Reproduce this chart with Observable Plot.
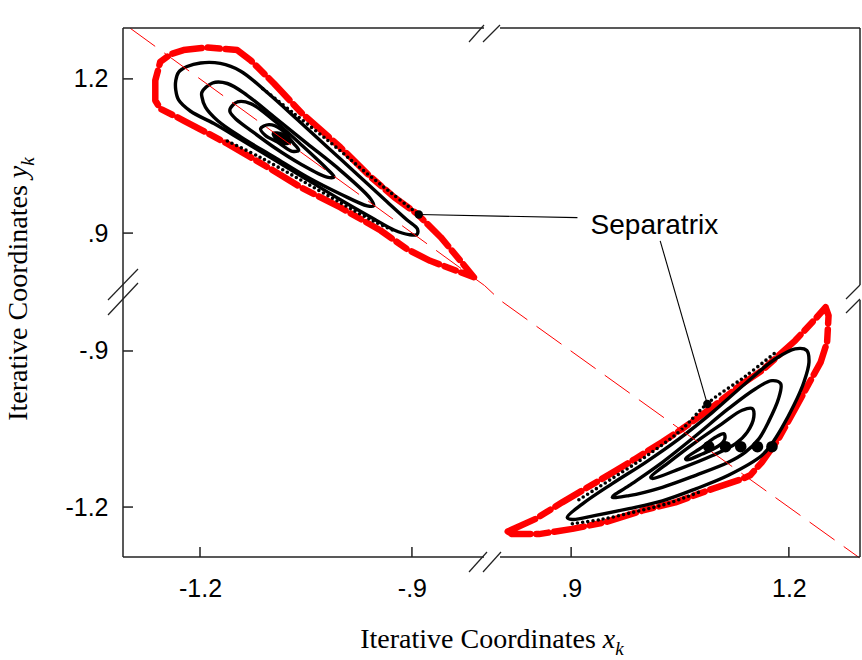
<!DOCTYPE html>
<html><head><meta charset="utf-8">
<script src="https://cdn.jsdelivr.net/npm/d3@7"></script>
<script src="https://cdn.jsdelivr.net/npm/@observablehq/plot@0.6"></script>
<style>body{margin:0;background:#fff}</style>
</head><body><div id="chart"></div>
<script>
// Broken axes: piecewise domains (left/right and lower/upper segments)
const xDomain = [-1.309, -0.798, 0.802, 1.298];
const yDomain = [-1.296, -0.802, 0.799, 1.299];
const xTicks = [-1.2, -0.9, 0.9, 1.2];
const xTickLabels = ["-1.2", "-.9", ".9", "1.2"];
const yTicks = [-1.2, -0.9, 0.9, 1.2];
const yTickLabels = ["-1.2", "-.9", ".9", "1.2"];

// Upper-left island (x<0, y>0)
const ulRed = [[-1.264,1.159],[-1.264,1.198],[-1.257,1.234],[-1.242,1.249],[-1.224,1.257],[-1.191,1.262],[-1.148,1.257],[-1.129,1.237],[-1.096,1.192],[-1.058,1.136],[-1.002,1.068],[-0.959,1.010],[-0.926,0.971],[-0.893,0.938],[-0.860,0.893],[-0.832,0.847],[-0.813,0.815],[-0.875,0.847],[-0.908,0.870],[-0.945,0.906],[-1.002,0.951],[-1.058,0.990],[-1.101,1.026],[-1.162,1.075],[-1.224,1.120],[-1.257,1.143]];
const ulA = [[-1.235,1.198],[-1.231,1.214],[-1.219,1.225],[-1.200,1.232],[-1.172,1.231],[-1.143,1.216],[-1.106,1.175],[-1.063,1.122],[-1.021,1.069],[-0.978,1.015],[-0.936,0.962],[-0.908,0.927],[-0.893,0.909],[-0.894,0.898],[-0.905,0.898],[-0.926,0.907],[-0.955,0.929],[-1.002,0.966],[-1.049,1.005],[-1.096,1.044],[-1.143,1.083],[-1.181,1.114],[-1.214,1.138],[-1.231,1.160],[-1.235,1.179]];
const ulB = [[-1.198,1.175],[-1.183,1.193],[-1.162,1.192],[-1.134,1.169],[-1.096,1.127],[-1.049,1.075],[-1.002,1.023],[-0.959,0.967],[-0.955,0.954],[-0.964,0.954],[-1.002,0.977],[-1.049,1.010],[-1.096,1.049],[-1.143,1.088],[-1.176,1.120],[-1.193,1.146],[-1.198,1.166]];
const ulC = [[-1.158,1.143],[-1.148,1.156],[-1.129,1.153],[-1.096,1.120],[-1.059,1.075],[-1.021,1.026],[-1.011,1.010],[-1.021,1.010],[-1.059,1.036],[-1.096,1.068],[-1.129,1.101],[-1.150,1.123],[-1.158,1.136]];
const ulD = [[-1.115,1.104],[-1.103,1.112],[-1.087,1.104],[-1.068,1.075],[-1.061,1.062],[-1.070,1.060],[-1.091,1.078],[-1.108,1.091]];
const ulE = [[-1.097,1.095],[-1.084,1.093],[-1.073,1.079],[-1.080,1.075],[-1.092,1.083]];
const ulSepUpper = [[-1.112,1.182],[-1.068,1.134],[-1.016,1.077],[-0.974,1.028],[-0.931,0.980],[-0.891,0.937]];
const ulSepLower = [[-1.162,1.080],[-1.115,1.048],[-1.059,1.005],[-1.002,0.960],[-0.955,0.924],[-0.925,0.905]];
const ulSepPoint = [[-0.891,0.937]];

// Lower-right island (x>0, y<0)
const lrRed = [[0.812,-1.246],[0.850,-1.222],[0.887,-1.190],[0.915,-1.167],[0.961,-1.129],[0.988,-1.106],[1.025,-1.074],[1.052,-1.049],[1.094,-1.007],[1.135,-0.962],[1.162,-0.937],[1.208,-0.879],[1.236,-0.837],[1.250,-0.815],[1.254,-0.831],[1.252,-0.882],[1.243,-0.921],[1.229,-0.956],[1.208,-1.010],[1.185,-1.068],[1.162,-1.113],[1.146,-1.138],[1.135,-1.145],[1.094,-1.164],[1.043,-1.190],[0.997,-1.206],[0.947,-1.228],[0.901,-1.241],[0.855,-1.251],[0.818,-1.251]];
const lrA = [[0.894,-1.219],[0.915,-1.193],[0.956,-1.154],[1.002,-1.113],[1.048,-1.068],[1.094,-1.017],[1.139,-0.962],[1.181,-0.914],[1.208,-0.895],[1.224,-0.898],[1.227,-0.921],[1.220,-0.959],[1.206,-1.004],[1.190,-1.046],[1.176,-1.077],[1.162,-1.100],[1.116,-1.138],[1.071,-1.164],[1.025,-1.187],[0.979,-1.202],[0.933,-1.215],[0.901,-1.223]];
const lrB = [[0.956,-1.180],[0.979,-1.158],[1.025,-1.113],[1.071,-1.062],[1.116,-1.010],[1.153,-0.972],[1.176,-0.956],[1.188,-0.962],[1.185,-0.991],[1.171,-1.036],[1.158,-1.068],[1.139,-1.094],[1.116,-1.113],[1.071,-1.138],[1.025,-1.161],[0.979,-1.177]];
const lrC = [[1.009,-1.142],[1.034,-1.113],[1.071,-1.074],[1.107,-1.039],[1.135,-1.013],[1.149,-1.010],[1.151,-1.026],[1.142,-1.055],[1.126,-1.077],[1.094,-1.100],[1.048,-1.126],[1.011,-1.144]];
const lrD = [[1.057,-1.106],[1.080,-1.084],[1.098,-1.065],[1.110,-1.058],[1.111,-1.068],[1.103,-1.081],[1.080,-1.097],[1.059,-1.108]];
const lrSepUpper = [[0.910,-1.185],[0.956,-1.144],[1.002,-1.102],[1.050,-1.052],[1.087,-1.000],[1.139,-0.948],[1.181,-0.902]];
const lrSepLower = [[0.901,-1.231],[0.940,-1.223],[0.988,-1.208],[1.033,-1.192],[1.078,-1.169]];
const lrSepPoint = [[1.087,-1.001]];
const lrBigDots = [[1.089,-1.083],[1.112,-1.083],[1.133,-1.083],[1.156,-1.083],[1.176,-1.083]];

// Diagonal y = -x (dashed red)
const diag = [[-1.299,1.299],[-0.798,0.798],[0.802,-0.802],[1.296,-1.296]];

// Annotation
const sepLabel = [{x: 1.014, y: 0.917, text: "Separatrix"}];
const leaders = [{x1: -0.891, y1: 0.937, x2: 0.908, y2: 0.931}, {x1: 1.087, y1: -1.001, x2: 1.022, y2: 0.886}];

const P = a => a.map(([x, y]) => ({x, y}));
const loop = (a, o) => Plot.line(P(a), {x: "x", y: "y", curve: "catmull-rom-closed", stroke: "black", strokeWidth: 3.4, ...o});
const dotted = a => Plot.line(P(a), {x: "x", y: "y", curve: "catmull-rom", stroke: "black", strokeWidth: 3.6, strokeDasharray: "0,5.2", strokeLinecap: "round"});
const redLoop = a => Plot.line(P(a), {x: "x", y: "y", curve: "linear-closed", stroke: "#ff0000", strokeWidth: 6.5, strokeLinejoin: "round", strokeLinecap: "round", strokeDasharray: "30,6,12,6"});

const chart = Plot.plot({
  width: 862, height: 660,
  marginLeft: 123, marginRight: 2, marginTop: 28, marginBottom: 103,
  x: {type: "linear", domain: xDomain, range: [123, 484, 500, 860], axis: null},
  y: {type: "linear", domain: yDomain, range: [557, 300, 285, 28], axis: null},
  marks: [
    redLoop(ulRed), redLoop(lrRed),
    dotted(ulSepUpper), dotted(ulSepLower), dotted(lrSepUpper), dotted(lrSepLower),
    loop(ulA), loop(ulB), loop(ulC), loop(ulD), loop(ulE, {fill: "black"}),
    loop(lrA), loop(lrB), loop(lrC), loop(lrD),
    Plot.line(P(diag), {x: "x", y: "y", stroke: "#ff0000", strokeWidth: 1, strokeDasharray: "30,12"}),
    Plot.dot(P(lrBigDots), {x: "x", y: "y", r: 5.8, fill: "black"}),
    Plot.link(leaders, {x1: "x1", y1: "y1", x2: "x2", y2: "y2", stroke: "black", strokeWidth: 1.1}),
    Plot.dot(P(ulSepPoint.concat(lrSepPoint)), {x: "x", y: "y", r: 4.2, fill: "black"}),
    Plot.text(sepLabel, {x: "x", y: "y", text: "text", fontSize: 28, fill: "black", fontFamily: "Liberation Sans"}),
    Plot.text(xTicks, {x: d => d, y: () => yDomain[0], text: (d, i) => xTickLabels[i], dy: 31, fontSize: 25, fontFamily: "Liberation Sans", fill: "black"}),
    Plot.text(yTicks, {x: () => xDomain[0], y: d => d, text: (d, i) => yTickLabels[i], dx: -15, textAnchor: "end", fontSize: 25, fontFamily: "Liberation Sans", fill: "black"}),
    Plot.text(["Iterative Coordinates x"], {frameAnchor: "bottom", textAnchor: "middle", lineAnchor: "middle", dy: 82, text: d => d, fontSize: 28, fontFamily: "Liberation Serif", fill: "black"}),
    Plot.text(["Iterative Coordinates y"], {frameAnchor: "left", textAnchor: "middle", lineAnchor: "middle", dx: -105, dy: -4, rotate: -90, text: d => d, fontSize: 28, fontFamily: "Liberation Serif", fill: "black"})
  ]
});
document.getElementById("chart").appendChild(chart);

// Frame with axis-break marks and inward ticks, positioned from Plot's scales
const sx = chart.scale("x"), sy = chart.scale("y");
const X = v => sx.apply(v), Y = v => sy.apply(v);
const svg = d3.select(chart);
const L = X(xDomain[0]), R = X(xDomain[3]), T = Y(yDomain[3]), B = Y(yDomain[0]);
const xbL = X(xDomain[1]), xbR = X(xDomain[2]), ybT = Y(yDomain[2]), ybB = Y(yDomain[1]);
const g = svg.append("g").attr("stroke", "#222").attr("fill", "none");
const seg = (x1, y1, x2, y2, w) => g.append("line").attr("x1", x1).attr("y1", y1).attr("x2", x2).attr("y2", y2).attr("stroke-width", w || 1.5);
seg(L, T, xbL, T); seg(xbR, T, R, T);
seg(L, B, xbL, B); seg(xbR, B, R, B);
seg(L, T, L, B);
seg(R, T, R, ybT); seg(R, ybB, R, B);
// break slashes
seg(xbL - 15, T + 14, xbL, T - 3, 1.2); seg(xbR - 17, T + 14, xbR, T - 3, 1.2);
seg(xbL - 15, B + 15, xbL + 3, B - 5, 1.2); seg(xbR - 17, B + 15, xbR + 1, B - 5, 1.2);
seg(L - 15, ybB, L + 15, ybT - 16, 1.2); seg(L - 15, ybB + 15, L + 15, ybT - 2, 1.2);
seg(R - 14, ybB - 1, R, ybT, 1.2); seg(R - 14, ybB + 13, R, ybB - 1, 1.2);
// inward ticks
for (const t of xTicks) seg(X(t), B, X(t), B - 10);
for (const t of yTicks) seg(L, Y(t), L + 10, Y(t));

// Italic variable with subscript in axis labels
svg.selectAll("text").filter(function() { return /^Iterative Coordinates [xy]$/.test(this.textContent); })
  .each(function() {
    const t = d3.select(this), v = this.textContent.slice(-1);
    t.text("Iterative Coordinates ");
    t.append("tspan").attr("font-style", "italic").text(v);
    t.append("tspan").attr("font-style", "italic").attr("font-size", 19).attr("dy", 7).text("k");
  });
</script>
</body></html>
